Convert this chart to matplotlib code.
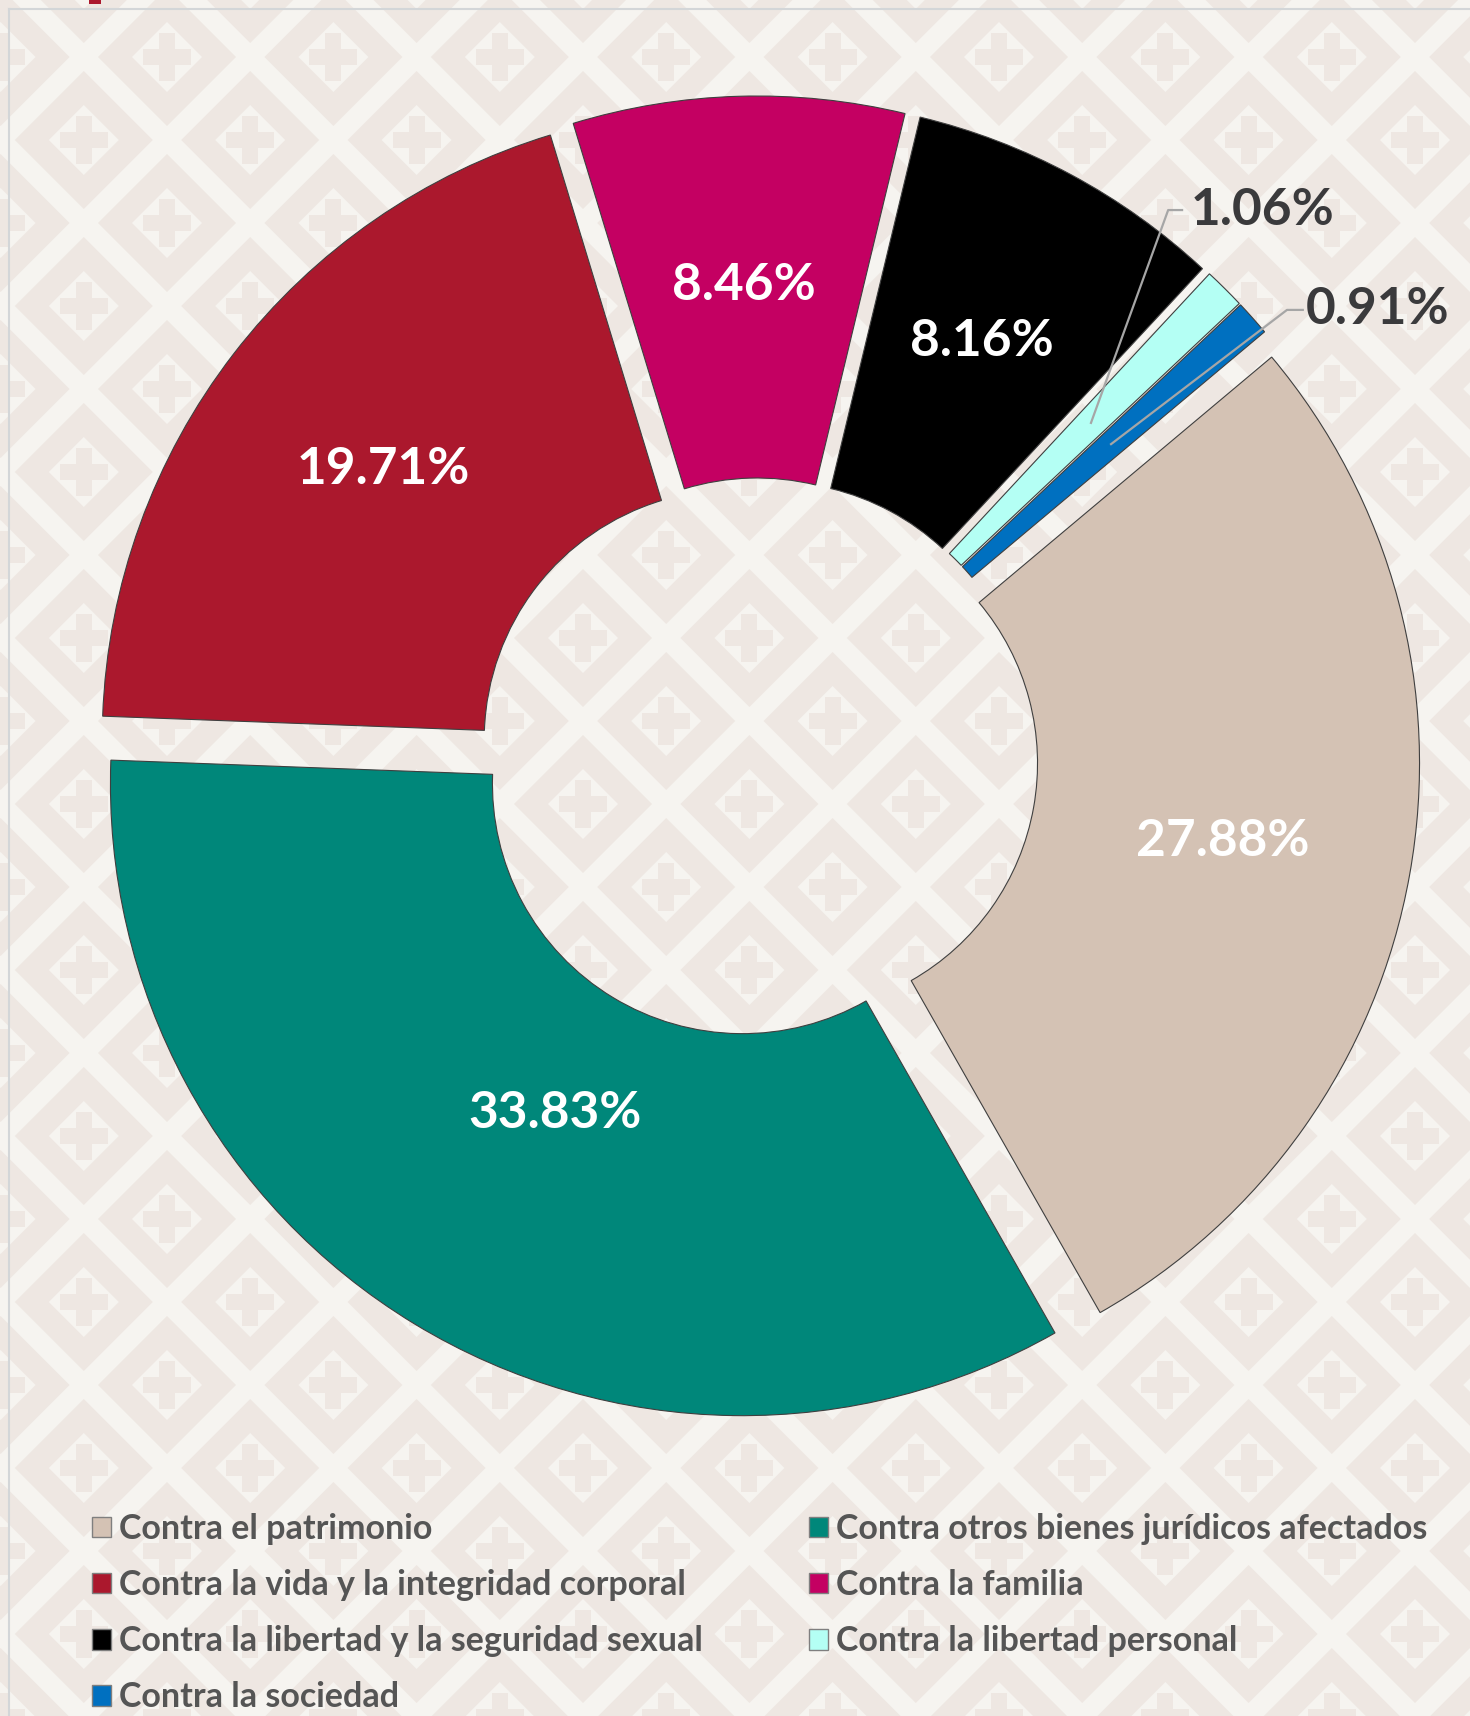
import numpy as np
import matplotlib.pyplot as plt
from matplotlib.patches import Polygon, Rectangle, Patch
from matplotlib.collections import PatchCollection

# Datos
categorias = ["Contra el patrimonio",
              "Contra otros bienes jurídicos afectados",
              "Contra la vida y la integridad corporal",
              "Contra la familia",
              "Contra la libertad y la seguridad sexual",
              "Contra la libertad personal",
              "Contra la sociedad"]
porcentajes = [27.88, 33.83, 19.71, 8.46, 8.16, 1.06, 0.91]
colores = ["#D4C2B4", "#00877A", "#AB182D", "#C40062", "#000000", "#B4FFF4", "#0070C0"]

W, H = 1470, 1716
fig = plt.figure(figsize=(W / 100, H / 100), dpi=100)
fig.patch.set_facecolor("#F6F4F0")

# Fondo con rombos y cruces (decorativo)
bg = fig.add_axes([0, 0, 1, 1])
bg.set_xlim(0, W)
bg.set_ylim(H, 0)
bg.axis("off")
bg.set_facecolor("#F6F4F0")

beige, blanco = "#EEE7E2", "#F6F4F0"
outer, inner, brazo, grosor = 69, 35, 24, 8
exteriores, interiores, cruces = [], [], []
for i in range(-3, 22):
    for j in range(-3, 24):
        if (i + j) % 2:
            continue
        cx = 167 + 83.2 * i
        cy = 57 + 83 * j
        exteriores.append(Polygon([(cx - outer, cy), (cx, cy - outer), (cx + outer, cy), (cx, cy + outer)]))
        interiores.append(Polygon([(cx - inner, cy), (cx, cy - inner), (cx + inner, cy), (cx, cy + inner)]))
        cruces.append(Rectangle((cx - brazo, cy - grosor), 2 * brazo, 2 * grosor))
        cruces.append(Rectangle((cx - grosor, cy - brazo), 2 * grosor, 2 * brazo))
bg.add_collection(PatchCollection(exteriores, facecolor=beige, edgecolor="none"))
bg.add_collection(PatchCollection(interiores, facecolor=blanco, edgecolor="none"))
bg.add_collection(PatchCollection(cruces, facecolor=beige, edgecolor="none"))
bg.plot([9, W], [9, 9], color="#D3D6D8", lw=1.5)
bg.plot([9, 9], [9, H], color="#D3D6D8", lw=1.5)
bg.add_patch(Rectangle((89, 0), 12, 4, facecolor="#AB182D", edgecolor="none"))

# Dona
R = 632
cx0, cy0 = 758, 758
ax = fig.add_axes([0, 0, 1, 1])
ax.patch.set_alpha(0)
wedges, _ = ax.pie(porcentajes, colors=colores, startangle=40, counterclock=False,
                   radius=1, explode=[30 / R] * len(porcentajes),
                   wedgeprops=dict(width=(R - 250) / R, edgecolor="#3F3F3F", linewidth=0.8))
ax.set_xlim(-cx0 / R, (W - cx0) / R)
ax.set_ylim(-(H - cy0) / R, cy0 / R)
ax.set_aspect("equal")
ax.axis("off")

fuente = "Lato"
distancias = [0.70, 0.61, 0.70, 0.70, 0.70, 0.70, 0.70]
for k, (w, v) in enumerate(zip(wedges, porcentajes)):
    ang = np.deg2rad((w.theta1 + w.theta2) / 2)
    px = w.center[0] + distancias[k] * np.cos(ang)
    py = w.center[1] + distancias[k] * np.sin(ang)
    if v > 5:
        if k == 1:
            px += 0.02
        ax.text(px, py, f"{v:.2f}%", ha="center", va="center", color="white",
                fontsize=37, fontweight="bold", family=fuente)
    else:
        # etiquetas externas con línea guía
        if k == 5:
            codo, fin, tx, ty = (0.649, 0.867), (0.671, 0.867), 0.685, 0.867
        else:
            codo, fin, tx, ty = (0.837, 0.709), (0.862, 0.709), 0.867, 0.709
        ax.plot([px, codo[0], fin[0]], [py, codo[1], fin[1]], color="#A6A6A6", lw=1.6)
        ax.text(tx, ty, f"{v:.2f}%", ha="left", va="center", color="#3A3A3C",
                fontsize=37, fontweight="bold", family=fuente)

# Leyenda en orden por filas
orden = [0, 2, 4, 6, 1, 3, 5]
handles = [Patch(facecolor=colores[i], edgecolor="#7F7F7F", linewidth=1) for i in orden]
labels = [categorias[i] for i in orden]
fig.legend(handles, labels, loc="upper left", bbox_to_anchor=(92 / W, 1 - 1513 / H),
           ncol=2, frameon=False, borderaxespad=0, borderpad=0,
           prop=dict(family=fuente, weight="bold", size=24.5),
           labelcolor="#555555", handlelength=0.55, handleheight=0.55,
           handletextpad=0.25, labelspacing=0.71, columnspacing=3.12)

plt.savefig("out.png", dpi=100, facecolor=fig.get_facecolor())
